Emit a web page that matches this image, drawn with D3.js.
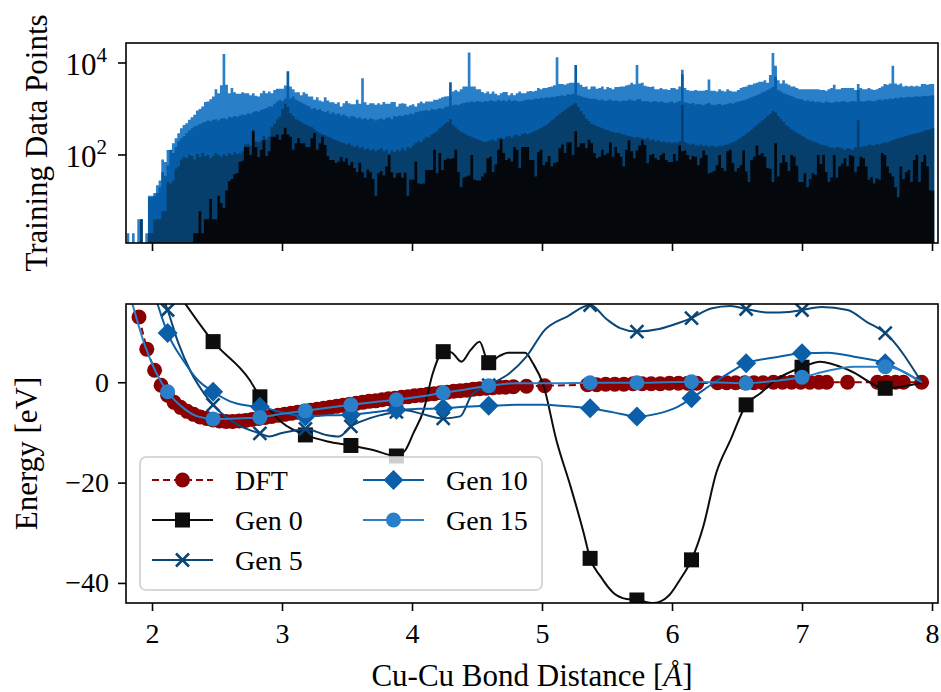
<!DOCTYPE html>
<html>
<head>
<meta charset="utf-8">
<script src="https://cdn.jsdelivr.net/npm/d3@7"></script>
<style>
body { margin: 0; background: #fff; }
text { font-family: "Liberation Serif", "Times New Roman", serif; fill: #000; }
</style>
</head>
<body>
<svg id="chart" width="941" height="692"></svg>
<script>
/*
** Training data histogram (top) and Cu-Cu dimer energy curves (bottom).
*/

// histogram bins, Cu-Cu distance in Angstrom
var binStart = 1.805;
var binWidth = 0.0205;

// counts per bin, one array per generation
var gen15Counts = [
	2,0,2,0,4,4,0,2,13,13,
	15,22,28,80,70,129,130,180,230,297,
	380,450,490,580,660,750,930,1000,1130,1420,
	1450,1620,1860,2700,2200,3300,15700,3350,2200,2850,
	2300,2150,2150,2300,2200,2200,2000,2200,1950,1860,
	2200,2500,2200,2400,2200,2600,2750,2750,2750,3250,
	3250,3100,2700,2300,2300,2000,2300,2150,1860,1860,
	1580,1800,1520,1450,1800,1520,1400,1400,1300,1400,
	1130,1330,1500,1330,1260,1260,1580,1300,4650,1400,
	1230,1330,1330,1230,1330,1250,1420,1300,1300,1420,
	1420,1130,1300,1330,1300,1130,1200,1260,1130,1330,
	1450,1330,1450,1450,1450,1580,1580,1700,1800,1860,
	1900,2000,2400,2600,2400,2700,3100,3100,17000,3100,
	3100,2700,2700,2350,2200,2400,2150,2400,2150,2000,
	2200,2350,2350,2000,2200,2000,2200,2400,2200,2200,
	2400,2450,2400,2500,2850,2700,2850,2850,3000,3100,
	3300,13300,3500,3500,3350,3600,3700,3700,3700,3700,
	3350,3000,3100,2700,3100,3100,2750,2850,3100,2700,
	3000,2850,2700,3000,3000,3100,3100,3250,3350,3700,
	3450,9000,3600,3700,3200,3100,3000,3100,2700,2700,
	2850,2700,2700,2600,2850,2850,2700,3100,7100,2850,
	2600,2500,2500,2600,2500,2500,2500,2600,4400,2500,
	2500,2400,2700,2500,2400,2700,2500,2400,2400,2600,
	2850,3000,3100,3350,3350,3600,3700,3900,3900,4200,
	3700,5500,16500,8700,4200,3600,4200,3600,3350,3100,
	3100,2850,2700,2700,2700,2700,2700,2700,2700,2700,
	2600,2600,2500,2700,2850,3350,2700,2700,2850,2850,
	2850,2850,2850,2600,3500,2850,2700,2700,2850,2700,
	2600,2700,2850,3100,3500,3350,3600,8700,3600,3350,
	3600,3100,3200,3100,3200,3100,3200,3100,3500,3500,
	3350,3500,3500
];
var gen10Counts = [
	0,0,0,0,0,4,0,0,12,12,
	13,15,20,42,35,60,129,110,150,200,
	230,260,300,340,380,420,440,470,500,520,
	560,540,580,600,560,620,640,600,680,650,
	700,680,720,760,740,810,790,850,900,870,
	950,1000,1050,1130,1130,1300,1450,1580,1500,1700,
	6600,1700,1860,1600,1500,1400,1300,1200,1150,1000,
	1050,950,1000,900,850,900,800,850,760,800,
	720,760,700,650,700,680,620,650,600,640,
	580,620,600,560,600,620,580,640,660,600,
	700,680,720,700,760,740,800,780,850,870,
	900,920,950,900,1000,960,1000,1050,1000,1100,
	1150,3800,1200,1250,1200,1300,1350,1400,1400,1450,
	1400,1500,1450,1400,1500,1450,1550,1500,1450,1580,
	1500,1550,1450,1600,1500,1550,1500,1450,1500,1550,
	1600,1580,1600,1700,1650,1750,1700,1800,1750,1850,
	1800,1900,1950,2000,1900,2100,2050,2150,9000,2000,
	1900,1800,1750,1700,1650,1700,1600,1550,1600,1500,
	1550,1600,1500,1550,1500,1450,1550,1500,1600,1550,
	1500,1600,1650,1500,1450,1500,1400,1450,1500,1400,
	1450,1400,1350,1400,1450,1350,1400,1500,5700,1400,
	1350,1300,1350,1250,1300,1250,1200,1300,1350,1250,
	1200,1250,1300,1200,1250,1300,1350,1300,1400,1450,
	1500,1550,1600,1700,1800,1900,2000,2100,2300,2400,
	2600,2800,3000,5000,2600,2400,2200,2100,2000,1900,
	1800,1700,1650,1600,1500,1550,1450,1500,1400,1450,
	1400,1350,1450,1400,1350,1400,1450,1400,1500,1450,
	1400,1450,1500,1450,2600,1500,1450,1500,1550,1500,
	1450,1550,1600,1550,1650,1600,1700,1650,1750,1700,
	1800,1750,1800,1850,1800,1850,1900,1850,1900,1950,
	1900,1950,2000
];
var gen5Counts = [
	0,0,0,0,0,4,0,0,2,2,
	4,4,4,6,6,26,24,28,50,56,
	80,90,85,100,95,80,105,90,110,95,
	100,85,95,110,100,90,105,95,110,100,
	115,105,110,120,170,175,160,360,200,190,
	210,260,220,250,400,480,600,680,1000,1300,
	1100,800,700,600,560,520,480,450,420,400,
	360,330,300,280,270,250,240,220,210,200,
	190,180,170,180,160,150,160,140,150,130,
	140,125,135,120,130,140,120,130,110,125,
	115,130,120,140,125,150,140,160,180,200,
	190,220,250,240,280,300,330,380,420,480,
	520,600,450,400,350,320,300,280,260,250,
	230,220,210,200,190,200,210,220,200,230,
	240,220,250,260,240,270,280,260,290,300,
	280,300,320,340,360,380,420,450,500,560,
	620,700,780,860,950,1050,1150,1250,1330,1100,
	900,750,620,550,480,450,420,400,380,360,
	350,330,320,300,310,290,280,270,260,250,
	240,250,240,230,220,240,210,220,200,210,
	190,200,185,195,180,190,185,200,1230,190,
	180,170,175,165,160,170,155,165,150,160,
	155,150,160,155,165,170,180,190,200,220,
	240,260,290,320,360,400,450,500,560,620,
	700,780,900,850,700,600,520,450,400,360,
	330,300,280,260,240,220,210,200,190,180,
	170,165,160,150,145,140,150,145,140,130,
	140,135,130,150,580,150,160,155,170,165,
	160,175,170,180,190,185,200,210,220,230,
	240,250,260,270,280,290,300,310,320,340,
	350,360,380
];
var gen0Counts = [
	0,0,0,0,0,0,0,0,0,0,
	0,0,0,0,0,0,0,0,0,0,
	0,0,0,0,0,2,2,6,2,4,
	4,11,4,4,13,9,7,17,27,30,
	38,40,70,75,150,150,100,330,150,90,
	130,210,95,120,250,250,280,215,280,390,
	280,250,130,180,230,180,180,150,150,230,
	300,130,180,250,165,95,78,78,67,72,
	90,72,85,60,70,52,42,68,42,32,
	48,42,30,13,40,45,36,56,100,42,
	32,40,41,32,41,13,29,29,72,24,
	23,24,47,47,47,130,40,110,47,78,
	85,82,85,130,42,20,32,34,36,100,
	29,28,28,34,40,85,92,42,62,130,
	220,110,78,85,72,150,130,52,150,150,
	150,78,78,34,115,130,60,70,95,56,
	67,70,140,170,110,190,190,100,330,150,
	180,180,140,215,180,110,85,92,130,100,
	110,190,92,150,110,92,56,130,210,120,
	85,125,160,210,165,66,100,105,85,78,
	100,110,78,70,70,105,75,160,120,125,
	100,80,95,92,60,85,125,100,40,42,
	45,60,100,52,45,120,130,67,44,52,
	60,125,44,26,78,92,160,100,110,92,
	52,50,26,180,34,67,100,70,45,100,
	92,58,26,26,40,20,30,40,37,100,
	63,100,42,26,33,100,32,56,65,85,
	57,100,95,42,56,92,85,56,29,33,
	24,31,29,110,100,56,40,34,20,12,
	56,30,42,47,26,78,100,26,70,100,
	56,17,17
];

// DFT reference energies (eV)
var dftX = [1.90,1.96,2.02,2.07,2.12,2.17,2.22,2.27,2.32,2.37,2.42,2.47,2.52,2.57,2.62,2.67,2.72,2.77,2.82,2.87,
	2.92,2.97,3.02,3.07,3.12,3.17,3.22,3.27,3.32,3.37,3.42,3.47,3.52,3.57,3.62,3.67,3.72,3.77,3.82,3.87,
	3.92,3.97,4.02,4.07,4.12,4.17,4.22,4.27,4.32,4.37,4.42,4.47,4.52,4.57,4.62,4.67,4.72,4.78,4.88,5.02,
	5.35,5.42,5.49,5.56,5.63,5.70,5.77,5.84,5.91,5.98,6.05,6.12,6.19,6.35,6.42,6.49,6.56,6.63,6.70,
	6.78,6.85,6.92,6.99,7.06,7.13,7.19,7.35,7.58,7.65,7.72,7.78,7.92];
var dftE = [13.0,6.6,2.4,-0.6,-2.6,-4.0,-5.0,-5.8,-6.4,-6.9,-7.2,-7.5,-7.7,-7.8,-7.8,-7.7,-7.6,-7.4,-7.2,-7.0,
	-6.8,-6.6,-6.4,-6.2,-6.0,-5.8,-5.6,-5.4,-5.2,-5.0,-4.8,-4.6,-4.4,-4.2,-4.0,-3.8,-3.7,-3.5,-3.3,-3.2,
	-3.0,-2.9,-2.7,-2.6,-2.4,-2.3,-2.1,-2.0,-1.8,-1.7,-1.6,-1.4,-1.3,-1.2,-1.1,-1.0,-1.0,-0.9,-0.8,-0.7,
	-0.5,-0.5,-0.4,-0.4,-0.4,-0.3,-0.3,-0.3,-0.3,-0.2,-0.2,-0.2,-0.2,-0.1,-0.1,-0.1,-0.1,-0.1,-0.1,
	0,0,0,0,0,0,0,0,0,0,0,0,0];

// distances where the potential curves carry a marker
var markX = [2.12, 2.47, 2.83, 3.18, 3.53, 3.88, 4.24, 4.59, 5.37, 5.73, 6.15, 6.57, 7.0, 7.64];

var gen0X = [2.22,2.47,2.75,2.83,3.0,3.18,3.35,3.53,3.7,3.88,3.95,4.01,4.09,4.16,4.24,4.3,4.38,4.45,4.52,4.59,
	4.67,4.74,4.87,4.93,5.01,5.11,5.22,5.32,5.37,5.45,5.55,5.65,5.73,5.86,5.98,6.06,6.15,6.24,6.34,6.45,
	6.57,6.68,6.8,7.0,7.14,7.37,7.64,7.92];
var gen0E = [17,8.1,0.5,-2.9,-8.0,-10.5,-11.8,-12.6,-13.5,-14.7,-13.5,-10.2,-5.5,1.8,6.1,6.0,4.1,6.4,8.1,3.9,
	5.2,5.9,5.9,3.8,-0.5,-11.5,-20.8,-30,-35.1,-38.7,-42,-43.2,-43.4,-44,-42.4,-39.4,-35.4,-28.8,-18.1,-11.5,
	-4.5,-2.2,0.5,3.0,4.1,2.3,-1.2,-0.1];

var gen5X = [2.09,2.12,2.2,2.3,2.4,2.47,2.6,2.7,2.83,2.9,3.0,3.1,3.18,3.34,3.44,3.53,3.65,3.75,3.88,3.95,
	4.06,4.24,4.37,4.46,4.59,4.75,4.88,5.02,5.2,5.37,5.5,5.6,5.73,5.9,6.05,6.15,6.3,6.45,6.57,6.75,
	6.9,7.0,7.15,7.35,7.5,7.64,7.92];
var gen5E = [16.5,14.4,8,2,-2.2,-4.5,-7.5,-9,-10.2,-10.8,-10.1,-9.6,-9.3,-10.5,-10.8,-8.8,-7.4,-6.6,-5.9,-5.6,
	-6.2,-7.2,-6.8,-2.5,-0.6,1.8,5.1,10.4,13.2,15.4,12.5,10.8,10.1,10.6,11.8,12.8,14.7,15.2,14.6,13.9,
	14.0,14.4,15.0,14.4,12.0,9.8,0];

var gen10X = [2.04,2.12,2.25,2.35,2.47,2.6,2.72,2.83,3.0,3.18,3.35,3.53,3.7,3.88,4.05,4.24,4.4,4.59,4.8,5.0,
	5.2,5.37,5.55,5.73,5.9,6.05,6.15,6.3,6.45,6.57,6.8,7.0,7.2,7.4,7.64,7.92];
var gen10E = [15.8,9.8,4.0,0.5,-1.9,-3.8,-4.6,-4.9,-6.0,-6.8,-6.6,-6.5,-6.0,-5.5,-5.3,-5.2,-4.9,-4.7,-4.5,-4.5,
	-4.8,-5.2,-6.0,-6.8,-6.2,-4.8,-3.2,-0.5,2.0,3.8,5.0,5.8,5.9,5.1,3.8,0];

var gen15X = [1.84,1.95,2.03,2.12,2.25,2.35,2.47,2.65,2.83,3.0,3.18,3.35,3.53,3.7,3.88,4.05,4.24,4.4,4.59,4.8,
	5.1,5.37,5.73,6.15,6.57,6.8,7.0,7.2,7.4,7.64,7.92];
var gen15E = [16.5,7,2,-1.9,-5.3,-6.8,-7.3,-7.2,-7.0,-6.3,-5.7,-5.1,-4.5,-4.0,-3.5,-2.9,-2.1,-1.5,-0.7,-0.2,
	-0.2,-0.1,-0.1,0.1,-0.2,0.3,1.0,2.3,3.1,3.1,0];

var xTicks = [2, 3, 4, 5, 6, 7, 8];
var energyTicks = [0, -20, -40];
var countTicks = [100, 10000];

// colours
var cDft = "#8b0000", cGen0 = "#0d0d0d", cGen5 = "#0a4677", cGen10 = "#0b5ea8", cGen15 = "#2a7fc9";
var cHist15 = "#2a7fc9", cHist10 = "#075ca8", cHist5 = "#063e6c", cHist0 = "#04070b";

// layout
var left = 126, right = 938;
var topY0 = 43, topY1 = 243;
var botY0 = 304, botY1 = 603;

var svg = d3.select("#chart");

var x = d3.scaleLinear().domain([1.8, 8.046]).range([left, right]);
var yHist = d3.scaleLog().domain([1.22, 27200]).range([topY1, topY0]).clamp(true);
var yE = d3.scaleLinear().domain([-44.0, 15.6]).range([botY1, botY0]);

/*
** Histogram, drawn as one step outline per generation.
*/
function histPath(counts) {
	var p = d3.path();
	p.moveTo(x(binStart), topY1);
	counts.forEach(function(c, i) {
		var x0 = x(binStart + i * binWidth);
		var x1 = x(binStart + (i + 1) * binWidth);
		var yy = c > 0 ? yHist(c) : topY1;
		p.lineTo(x0, yy);
		p.lineTo(x1, yy);
	});
	p.lineTo(x(binStart + counts.length * binWidth), topY1);
	p.closePath();
	return p.toString();
}

var hist = svg.append("g").attr("class", "hist");
[[gen15Counts, cHist15], [gen10Counts, cHist10], [gen5Counts, cHist5], [gen0Counts, cHist0]]
	.forEach(function(s) {
		hist.append("path")
			.attr("d", histPath(s[0]))
			.attr("fill", s[1]);
	});

// top axes
var topAxisX = svg.append("g")
	.attr("transform", "translate(0," + topY1 + ")")
	.call(d3.axisBottom(x).tickValues(xTicks).tickSize(8).tickFormat(""));

var topAxisY = svg.append("g");
countTicks.forEach(function(v) {
	var yy = yHist(v);
	topAxisY.append("line")
		.attr("x1", left - 8).attr("x2", left)
		.attr("y1", yy).attr("y2", yy)
		.attr("stroke", "#000").attr("stroke-width", 1.6);
	var t = topAxisY.append("text")
		.attr("x", left - 19)
		.attr("y", yy + 12)
		.attr("text-anchor", "end")
		.style("font-size", "31px");
	t.append("tspan").text("10");
	t.append("tspan")
		.attr("dy", -13)
		.style("font-size", "21px")
		.text(String(Math.round(Math.log10(v))));
});

svg.append("rect")
	.attr("x", left).attr("y", topY0)
	.attr("width", right - left).attr("height", topY1 - topY0)
	.attr("fill", "none").attr("stroke", "#000").attr("stroke-width", 1.6);

/*
** Energy curves.
*/
svg.append("clipPath").attr("id", "clipBot")
	.append("rect")
	.attr("x", left).attr("y", botY0)
	.attr("width", right - left).attr("height", botY1 - botY0);

var curves = svg.append("g").attr("clip-path", "url(#clipBot)");

function toPoints(xs, es) {
	return xs.map(function(d, i) { return {x: d, e: es[i]}; });
}

var smoothLine = d3.line()
	.x(function(d) { return x(d.x); })
	.y(function(d) { return yE(d.e); })
	.curve(d3.curveMonotoneX);

var straightLine = d3.line()
	.x(function(d) { return x(d.x); })
	.y(function(d) { return yE(d.e); });

var series = [
	{name: "DFT", pts: toPoints(dftX, dftE), color: cDft, marker: "circle", dash: "7,4", all: true},
	{name: "Gen 0", pts: toPoints(gen0X, gen0E), color: cGen0, marker: "square"},
	{name: "Gen 5", pts: toPoints(gen5X, gen5E), color: cGen5, marker: "cross"},
	{name: "Gen 10", pts: toPoints(gen10X, gen10E), color: cGen10, marker: "diamond"},
	{name: "Gen 15", pts: toPoints(gen15X, gen15E), color: cGen15, marker: "circle"}
];

function drawMarker(g, type, cx, cy, color) {
	if (type == "circle") {
		g.append("circle").attr("cx", cx).attr("cy", cy).attr("r", 7.5).attr("fill", color);
	} else if (type == "square") {
		g.append("rect").attr("x", cx - 7.5).attr("y", cy - 7.5)
			.attr("width", 15).attr("height", 15).attr("fill", color);
	} else if (type == "diamond") {
		g.append("path")
			.attr("d", "M" + cx + "," + (cy - 10) + "L" + (cx + 10) + "," + cy +
				"L" + cx + "," + (cy + 10) + "L" + (cx - 10) + "," + cy + "Z")
			.attr("fill", color);
	} else {
		g.append("path")
			.attr("d", "M" + (cx - 6.5) + "," + (cy - 6.5) + "L" + (cx + 6.5) + "," + (cy + 6.5) +
				"M" + (cx - 6.5) + "," + (cy + 6.5) + "L" + (cx + 6.5) + "," + (cy - 6.5))
			.attr("stroke", color).attr("stroke-width", 2.6).attr("fill", "none");
	}
}

series.forEach(function(s) {
	var g = curves.append("g");
	g.append("path")
		.attr("d", s.all ? straightLine(s.pts) : smoothLine(s.pts))
		.attr("fill", "none")
		.attr("stroke", s.color)
		.attr("stroke-width", 2)
		.attr("stroke-dasharray", s.dash || null);
	s.pts.forEach(function(d) {
		if (s.all || markX.indexOf(d.x) >= 0) {
			drawMarker(g, s.marker, x(d.x), yE(d.e), s.color);
		}
	});
});

// bottom axes
var minus = function(d) { return d < 0 ? "\u2212" + Math.abs(d) : String(d); };

var botAxisX = svg.append("g")
	.attr("transform", "translate(0," + botY1 + ")")
	.call(d3.axisBottom(x).tickValues(xTicks).tickSize(8).tickPadding(12).tickFormat(d3.format("d")));
botAxisX.selectAll("text").style("font-size", "28px");

var botAxisY = svg.append("g")
	.attr("transform", "translate(" + left + ",0)")
	.call(d3.axisLeft(yE).tickValues(energyTicks).tickSize(8).tickPadding(9).tickFormat(minus));
botAxisY.selectAll("text").style("font-size", "28px");

[topAxisX, botAxisX, botAxisY].forEach(function(a) {
	a.select(".domain").remove();
	a.selectAll("line").attr("stroke-width", 1.6);
	a.selectAll("text").attr("fill", "#000").style("font-family", "Liberation Serif");
});

svg.append("rect")
	.attr("x", left).attr("y", botY0)
	.attr("width", right - left).attr("height", botY1 - botY0)
	.attr("fill", "none").attr("stroke", "#000").attr("stroke-width", 1.6);

// legend
var legend = svg.append("g");
legend.append("rect")
	.attr("x", 140).attr("y", 457)
	.attr("width", 402).attr("height", 133)
	.attr("rx", 6)
	.attr("fill", "#fff").attr("fill-opacity", 0.8)
	.attr("stroke", "#cccccc").attr("stroke-width", 1.5);

var legendPos = [[152, 480], [152, 520], [152, 560], [363, 480], [363, 520]];
series.forEach(function(s, i) {
	var lx = legendPos[i][0], ly = legendPos[i][1];
	legend.append("line")
		.attr("x1", lx).attr("x2", lx + 61)
		.attr("y1", ly).attr("y2", ly)
		.attr("stroke", s.color).attr("stroke-width", 2)
		.attr("stroke-dasharray", s.dash || null);
	drawMarker(legend, s.marker, lx + 30.5, ly, s.color);
	legend.append("text")
		.attr("x", lx + 83).attr("y", ly)
		.attr("dy", "0.34em")
		.style("font-size", "28px")
		.text(s.name);
});

// axis titles
var xTitle = svg.append("text")
	.attr("x", (left + right) / 2).attr("y", 686)
	.attr("text-anchor", "middle")
	.style("font-size", "31px");
xTitle.append("tspan").text("Cu-Cu Bond Distance [");
xTitle.append("tspan").style("font-style", "italic").text("\u00c5");
xTitle.append("tspan").text("]");

svg.append("text")
	.attr("transform", "translate(47," + (topY0 + topY1) / 2 + ") rotate(-90)")
	.attr("text-anchor", "middle")
	.style("font-size", "31px")
	.text("Training Data Points");

svg.append("text")
	.attr("transform", "translate(37," + (botY0 + botY1) / 2 + ") rotate(-90)")
	.attr("text-anchor", "middle")
	.style("font-size", "31px")
	.text("Energy [eV]");
</script>
</body>
</html>
